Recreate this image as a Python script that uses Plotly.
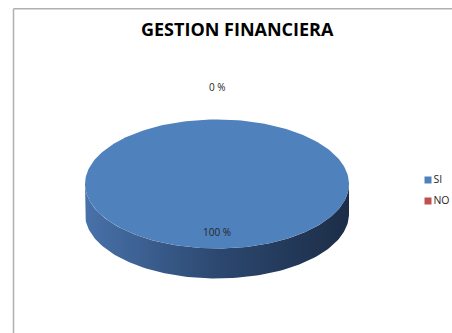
import numpy as np
import plotly.graph_objects as go

# ---- data ----
categories = ["SI", "NO"]
values = [100, 0]
slice_colors = ["#4f81bd", "#c0504d"]
title_text = "GESTION FINANCIERA"

# ---- geometry of the pseudo-3D pie (screen pixel space) ----
W, H = 452, 333
cx, cy = 217, 184
rx, ry = 132, 64.5
depth = 30
frame_top = 8.7

total = float(sum(values))
fracs = [v / total for v in values]

fig = go.Figure()

def ell(a):
    # a: angle in radians, 0 at top, clockwise
    return cx + rx * np.sin(a), cy - ry * np.cos(a)

# side wall (front half) for each slice
start = 0.0
for f, col in zip(fracs, slice_colors):
    a0, a1 = start * 2 * np.pi, (start + f) * 2 * np.pi
    start += f
    if f <= 0:
        continue
    lo, hi = max(a0, np.pi / 2), min(a1, 3 * np.pi / 2)
    if hi > lo:
        t = np.linspace(lo, hi, 120)
        xs, ys = ell(t)
        px = np.concatenate([xs, xs[::-1]])
        py = np.concatenate([ys, ys[::-1] + depth])
        fig.add_trace(go.Scatter(
            x=px, y=py, mode="lines", line=dict(width=0),
            fill="toself",
            fillgradient=dict(type="horizontal",
                              colorscale=[[0, "#4872aa"], [0.5, "#2c4870"], [1, "#1c2d47"]]),
            hoverinfo="skip", showlegend=False))

# top faces
start = 0.0
for f, col in zip(fracs, slice_colors):
    a0, a1 = start * 2 * np.pi, (start + f) * 2 * np.pi
    start += f
    if f <= 0:
        continue
    t = np.linspace(a0, a1, 240)
    xs, ys = ell(t)
    if f < 1:
        xs = np.concatenate([[cx], xs, [cx]])
        ys = np.concatenate([[cy], ys, [cy]])
    fig.add_trace(go.Scatter(
        x=xs, y=ys, mode="lines", line=dict(width=0, color=col),
        fill="toself", fillcolor=col, hoverinfo="skip", showlegend=False))

# data labels
start = 0.0
for f, v in zip(fracs, values):
    mid = (start + f / 2) * 2 * np.pi
    start += f
    k = 0.75 if f > 0 else 1.5
    lx, ly = cx + rx * k * np.sin(mid), cy - ry * k * np.cos(mid)
    fig.add_annotation(x=lx, y=ly, text=f"{round(f * 100)} %", showarrow=False,
                       font=dict(family="Open Sans", size=10, color="#262626"))

# legend
fig.add_trace(go.Scatter(
    x=[428] * len(categories), y=[180 + 21 * i for i in range(len(categories))],
    mode="markers+text", text=categories, textposition="middle right",
    marker=dict(symbol="square", size=7, color=slice_colors),
    textfont=dict(family="Open Sans", size=10.5, color="#262626"),
    cliponaxis=False, hoverinfo="skip", showlegend=False))

fig.update_layout(
    width=W, height=H, autosize=False,
    margin=dict(l=0, r=0, t=0, b=0),
    paper_bgcolor="white", plot_bgcolor="white",
    xaxis=dict(range=[0, W], visible=False, fixedrange=True),
    yaxis=dict(range=[H, 0], visible=False, fixedrange=True),
    showlegend=False,
    annotations=list(fig.layout.annotations) + [
        dict(x=237, y=28.5, xref="x", yref="y", text=f"<b>{title_text}</b>", showarrow=False,
             font=dict(family="Open Sans", size=18, color="#000000"))
    ],
    shapes=[
        dict(type="line", xref="paper", yref="paper", x0=13.5 / W, y0=1 - frame_top / H,
             x1=13.5 / W, y1=0, layer="above",
             line=dict(color="#b0b0b0", width=1.5)),
        dict(type="line", xref="paper", yref="paper", x0=13.5 / W, y0=1 - frame_top / H,
             x1=1, y1=1 - frame_top / H, layer="above",
             line=dict(color="#b0b0b0", width=1.5)),
    ],
)

fig.write_html("out.html", config={"displayModeBar": False},
               post_script="document.body.style.margin='0';document.body.style.overflow='hidden';")
